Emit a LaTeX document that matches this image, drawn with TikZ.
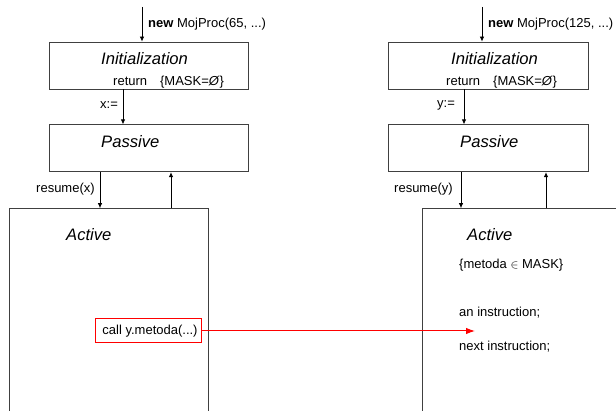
\documentclass[tikz,border=0pt]{standalone}
\usepackage{fontspec}
\setmainfont{Liberation Sans}
\usetikzlibrary{arrows.meta,positioning}
\tikzset{
>={Latex[length=5pt,width=4.5pt]},
procblock/.style={rectangle, draw=black!75, line width=0.8pt, minimum width=199pt, minimum height=47pt, inner sep=0pt},
activeblock/.style={procblock, minimum height=240pt},
txt/.style={anchor=west, inner sep=0pt, font=\fontsize{13}{15}\selectfont},
title/.style={anchor=west, inner sep=0pt, font=\fontsize{16.6}{20}\selectfont\itshape},
line/.style={draw, line width=0.8pt, ->},
callbox/.style={rectangle, draw=red, line width=1pt, anchor=west, inner sep=0pt, minimum width=106pt, minimum height=24pt, font=\fontsize{13}{15}\selectfont},
callline/.style={draw=red, line width=1pt, -{Latex[length=9pt,width=6.5pt]}},
}
\begin{document}
\begin{tikzpicture}[x=1pt, y=-1pt, node distance=35pt]
\useasboundingbox (0,0) rectangle (616,411);
\clip (0,0) rectangle (616,411);

% process x
\coordinate (new1) at (142,7);
\node[procblock] (init1) at (148.5,65.5) {};
\node[procblock, below=of init1] (pas1) {};
\node[activeblock, below=36pt of pas1, xshift=-40pt] (act1) {};
\node[txt] (lnew1) at (148,24) {\textbf{new} MojProc(65, ...)};
\node[title] (tinit1) at (101,59) {Initialization};
\node[txt] (ret1) at (113,82) {return\quad\{MASK=\textit{Ø}\}};
\node[txt] (asg1) at (100,105) {x:=};
\node[title] (tpas1) at (101,142) {Passive};
\node[txt] (res1) at (36,189) {resume(x)};
\node[title] (tact1) at (66,235) {Active};
\node[callbox] (call) at (95,331) {\hspace{3pt}call y.metoda(...)};
\draw[line] (new1) -- (new1 |- init1.north);
\draw[line] ([xshift=-25.5pt]init1.south) -- ([xshift=-25.5pt]pas1.north);
\draw[line] ([xshift=-48.5pt]pas1.south) -- ([xshift=-48.5pt]pas1.south |- act1.north);
\draw[line] ([xshift=22.5pt]pas1.south |- act1.north) -- ([xshift=22.5pt]pas1.south);

% process y
\coordinate (new2) at (482,7);
\node[procblock, minimum width=200pt] (init2) at (488,65.5) {};
\node[procblock, minimum width=200pt, below=of init2] (pas2) {};
\node[activeblock, below=36pt of pas2, xshift=33.5pt] (act2) {};
\node[txt] (lnew2) at (488,24) {\textbf{new} MojProc(125, ...)};
\node[title] (tinit2) at (451,59) {Initialization};
\node[txt] (ret2) at (446,82) {return\quad\{MASK=\textit{Ø}\}};
\node[txt] (asg2) at (437,105) {y:=};
\node[title] (tpas2) at (460,142) {Passive};
\node[txt] (res2) at (394,189) {resume(y)};
\node[title] (tact2) at (467,235) {Active};
\node[txt] (mask) at (459,265) {\{metoda $\in$ MASK\}};
\node[txt] (instr) at (459,313) {an instruction;};
\node[txt] (next) at (459,347) {next instruction;};
\coordinate (hit) at (475,331);
\draw[line] (new2) -- (new2 |- init2.north);
\draw[line] ([xshift=-24pt]init2.south) -- ([xshift=-24pt]pas2.north);
\draw[line] ([xshift=-27pt]pas2.south) -- ([xshift=-27pt]pas2.south |- act2.north);
\draw[line] ([xshift=58pt]pas2.south |- act2.north) -- ([xshift=58pt]pas2.south);

\draw[callline] (call.east) -- (hit);
\end{tikzpicture}
\end{document}
